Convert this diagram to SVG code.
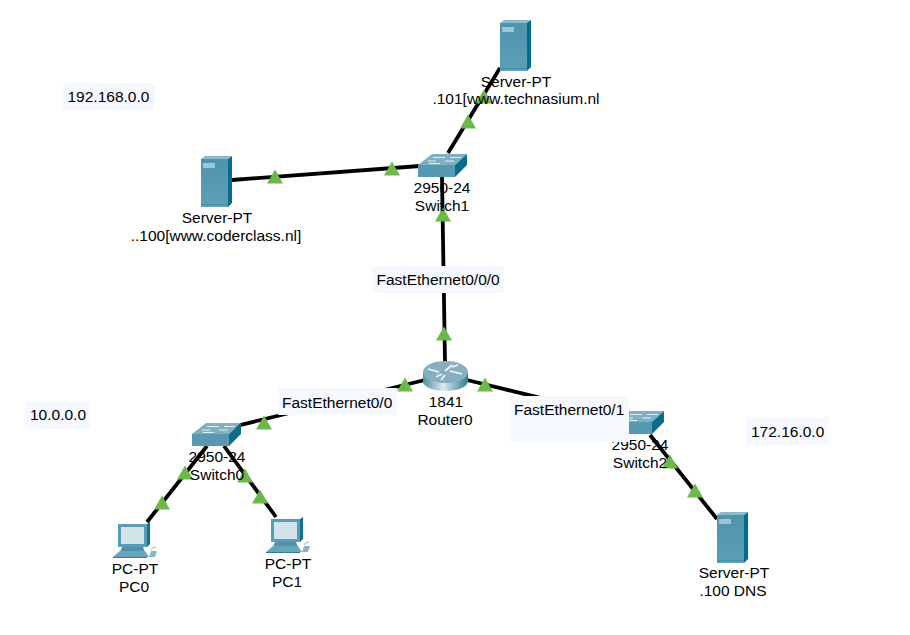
<svg xmlns="http://www.w3.org/2000/svg" width="910" height="635" viewBox="0 0 910 635">
<style>
text{font-family:"Liberation Sans",Arial,sans-serif;font-size:15.5px;fill:#000}
.c{text-anchor:middle}
.ln{stroke:#000;stroke-width:3.8;fill:none}
.box{fill:#f6f8ff}
</style>
<defs>
<linearGradient id="front" x1="0" y1="0" x2="0" y2="1"><stop offset="0" stop-color="#4f93ad"/><stop offset="1" stop-color="#5d9fb6"/></linearGradient>
<linearGradient id="rt" x1="0" y1="0" x2="1" y2="0"><stop offset="0" stop-color="#4f8fa6"/><stop offset=".45" stop-color="#dbe9ee"/><stop offset="1" stop-color="#2f7c96"/></linearGradient>
<polygon id="tri" points="0,-7.500 8,6.500 -8,6.500" fill="#6cb84a"/>
<g id="server">
<polygon points="0,3 4,0 31,0 27,3" fill="#8dbbcb"/>
<polygon points="27,3 31,0 31,47 27,51" fill="#056d8c"/>
<rect x="0" y="3" width="27" height="48" fill="url(#front)"/>
<rect x="2" y="7" width="12" height="5" fill="#9cc6d3"/>
<rect x="0" y="48" width="27" height="1" fill="#4a8aa3"/>
</g>
<g id="switch">
<polygon points="0,11 14,0 49,0 37,11" fill="#7fb0c2"/>
<polygon points="37,11 49,0 49,11 37,23" fill="#0c6d8a"/>
<rect x="0" y="11" width="37" height="12" fill="#5799b1"/>
<path d="M15,3.500h12M32,3.500h11M10,7h8M27,7h9M11,9.500h11" stroke="#e4eff3" stroke-width="1" fill="none"/>
</g>
<g id="pc">
<polygon points="5,2 34,2 37,0 37,22 34,25 5,25" fill="#0f7391"/>
<rect x="5" y="2" width="29" height="23" fill="#5b9cb4"/>
<rect x="8" y="5" width="23" height="17" fill="#d3e3ea"/>
<polygon points="9,25 30,25 32,30 7,30" fill="#4f93ad"/>
<polygon points="7,29 32,29 36,35 0,35" fill="#69a6bb"/>
<rect x="0" y="35" width="34" height="1" fill="#2f7c96"/>
<path d="M36,35 l2,-6 h6 l-2,6z" fill="#8fb4c3"/>
<path d="M38,28q1,-3 5,-3" stroke="#8fb4c3" fill="none"/>
</g>
</defs>
<rect width="910" height="635" fill="#fff"/>
<g id="connectors">
<path class="ln" d="M500,68L448,153"/>
<path class="ln" d="M232,180L420,166"/>
<path class="ln" d="M442,177L445,362"/>
<path class="ln" d="M425,380L228,428"/>
<path class="ln" d="M467,380L640,422"/>
<path class="ln" d="M650,435L717,519"/>
<path class="ln" d="M207,446L147,522"/>
<path class="ln" d="M224,446L276,517"/>
<use href="#tri" x="468" y="122"/>
<use href="#tri" x="484" y="97"/>
<use href="#tri" x="392" y="169"/>
<use href="#tri" x="275" y="177"/>
<use href="#tri" x="443" y="215"/>
<use href="#tri" x="444" y="334"/>
<use href="#tri" x="405" y="385"/>
<use href="#tri" x="485" y="385"/>
<use href="#tri" x="264" y="423"/>
<use href="#tri" x="185" y="473"/>
<use href="#tri" x="162" y="503"/>
<use href="#tri" x="245" y="476"/>
<use href="#tri" x="260" y="497"/>
<use href="#tri" x="670" y="462"/>
<use href="#tri" x="695" y="491"/>
</g>
<g id="server-top">
<use href="#server" x="500" y="20"/>
<text class="c" x="516" y="87">Server-PT</text>
<text class="c" x="516" y="104">.101[www.technasium.nl</text>
</g>
<g id="server-left">
<use href="#server" x="201" y="156"/>
<text class="c" x="217" y="223">Server-PT</text>
<text class="c" x="216" y="241">..100[www.coderclass.nl]</text>
</g>
<g id="server-dns">
<use href="#server" x="717" y="512"/>
<text class="c" x="734" y="578">Server-PT</text>
<text class="c" x="733" y="596">.100 DNS</text>
</g>
<g id="switch1">
<use href="#switch" x="418" y="154"/>
<text class="c" x="442" y="193">2950-24</text>
<text class="c" x="442" y="211">Switch1</text>
</g>
<g id="switch0">
<use href="#switch" x="192" y="423"/>
<text class="c" x="217" y="462">2950-24</text>
<text class="c" x="217" y="480">Switch0</text>
</g>
<g id="switch2">
<use href="#switch" x="615" y="411"/>
<text class="c" x="640" y="450">2950-24</text>
<text class="c" x="640" y="468">Switch2</text>
</g>
<g id="router0">
<path d="M423,372V381C423,387 433,391 445.500,391S468,387 468,381V372Z" fill="url(#rt)"/>
<ellipse cx="445.500" cy="372" rx="22.500" ry="11" fill="#86b0c1"/>
<path d="M428,369l11,3M452,365l-7,6M462,374l-12,-3M441,380l4,-5M436,377l6,-3M452,367l6,-2" stroke="#f1f6f8" stroke-width="1.800" fill="none"/>
<text class="c" x="446" y="407">1841</text>
<text class="c" x="445" y="425">Router0</text>
</g>
<g id="pc0">
<use href="#pc" x="113" y="522"/>
<text class="c" x="135" y="574">PC-PT</text>
<text class="c" x="134" y="592">PC0</text>
</g>
<g id="pc1">
<use href="#pc" x="266" y="517"/>
<text class="c" x="288" y="569">PC-PT</text>
<text class="c" x="287" y="587">PC1</text>
</g>
<g id="label-192">
<rect class="box" x="63" y="83" width="92" height="27"/>
<text x="67.500" y="102">192.168.0.0</text>
</g>
<g id="label-10">
<rect class="box" x="25" y="402" width="65" height="27"/>
<text x="30" y="420">10.0.0.0</text>
</g>
<g id="label-172">
<rect class="box" x="746" y="417" width="83" height="28"/>
<text x="751" y="437">172.16.0.0</text>
</g>
<g id="label-fe000">
<rect class="box" x="372" y="266" width="132" height="27"/>
<text x="376.500" y="285">FastEthernet0/0/0</text>
</g>
<g id="label-fe00">
<rect class="box" x="278" y="388" width="119" height="27"/>
<text x="282" y="408">FastEthernet0/0</text>
</g>
<g id="label-fe01">
<rect class="box" x="510" y="396" width="119" height="46"/>
<text x="514" y="415">FastEthernet0/1</text>
</g>
</svg>
